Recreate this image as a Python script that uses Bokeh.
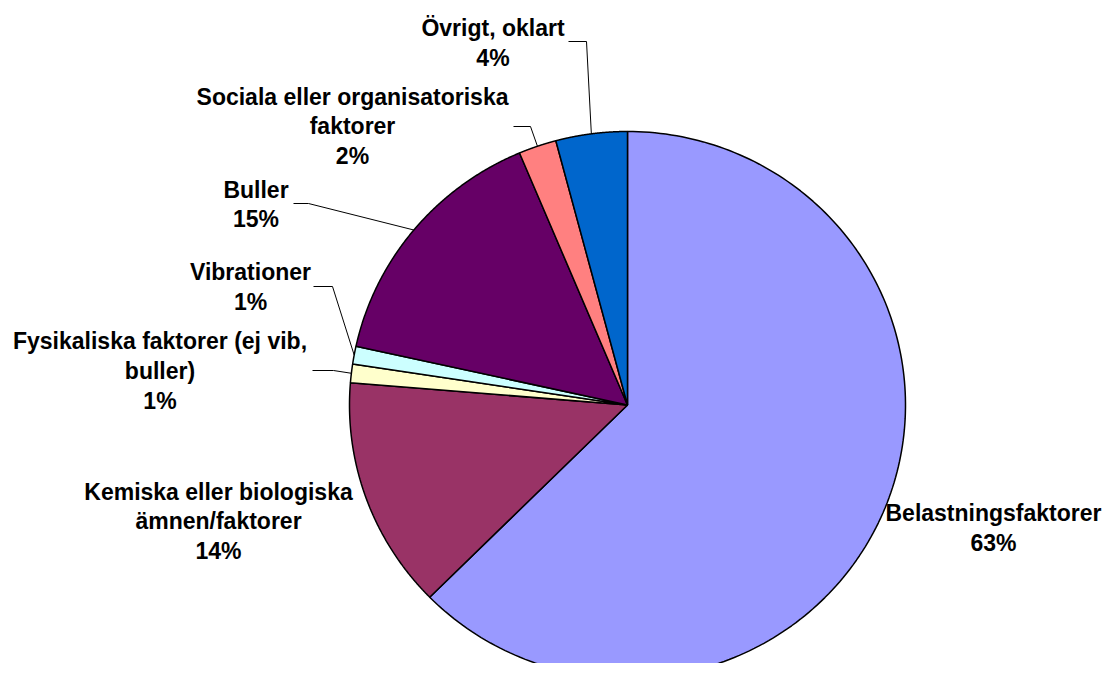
import numpy as np
from bokeh.plotting import figure
from bokeh.models import Range1d, ColumnDataSource
from bokeh.embed import file_html
from bokeh.resources import INLINE
from bokeh.core.properties import value

# ---- data ----
categories = ["Belastningsfaktorer",
              "Kemiska eller biologiska\nämnen/faktorer",
              "Fysikaliska faktorer (ej vib,\nbuller)",
              "Vibrationer",
              "Buller",
              "Sociala eller organisatoriska\nfaktorer",
              "Övrigt, oklart"]
values = [62.6, 13.7, 1.1, 1.05, 15.2, 2.2, 4.15]
colors = ["#9999FF", "#993366", "#FFFFCC", "#CCFFFF", "#660066", "#FF8080", "#0066CC"]

# ---- layout (label block centres and leader elbows, in page pixels) ----
label_x = [993, 218, 159.5, 250, 255.5, 352, 492.5]
label_y = [527.5, 521, 370.5, 286.5, 204, 126, 42.5]
leader_start = [None, None, (312, 370), (313, 286), (293, 203), (513, 126), (568, 41)]
leader_elbow = [None, None, (333, 370), (332, 286), (308, 203), (530, 126), (586, 41)]

cx, cy, rx, ry = 627.0, 404.5, 278.0, 273.5

W, H = 1104, 663
p = figure(width=W, height=H, x_range=Range1d(0, W), y_range=Range1d(H, 0),
           output_backend="svg", toolbar_location=None, min_border=0,
           x_axis_type=None, y_axis_type=None)
p.grid.visible = False
p.outline_line_color = None
p.background_fill_color = "white"
p.border_fill_color = "white"

total = float(sum(values))
fr = np.cumsum([0.0] + [v / total for v in values])
xs, ys, mids = [], [], []
for i in range(len(values)):
    th = np.linspace(fr[i], fr[i + 1], 200) * 2 * np.pi
    px = np.concatenate([[cx], cx + rx * np.sin(th)])
    py = np.concatenate([[cy], cy - ry * np.cos(th)])
    xs.append(list(px))
    ys.append(list(py))
    mids.append((fr[i] + fr[i + 1]) * np.pi)

p.patches(xs=xs, ys=ys, fill_color=colors, line_color="black", line_width=1.5)

lx, ly = [], []
for i in range(len(values)):
    if leader_start[i] is None:
        continue
    ex = cx + rx * np.sin(mids[i])
    ey = cy - ry * np.cos(mids[i])
    lx.append([leader_start[i][0], leader_elbow[i][0], ex])
    ly.append([leader_start[i][1], leader_elbow[i][1], ey])
p.multi_line(xs=lx, ys=ly, line_color="black", line_width=1)

texts = [f"{c}\n{round(v / total * 100):d}%" for c, v in zip(categories, values)]
src = ColumnDataSource(dict(x=label_x, y=label_y, t=texts))
p.text(x="x", y="y", text="t", source=src, text_font=value("Liberation Sans"),
       text_font_style="bold", text_font_size="23px", text_align="center",
       text_baseline="middle", text_line_height=1.15, text_color="black")

open("out.html", "w").write(file_html(p, INLINE))
